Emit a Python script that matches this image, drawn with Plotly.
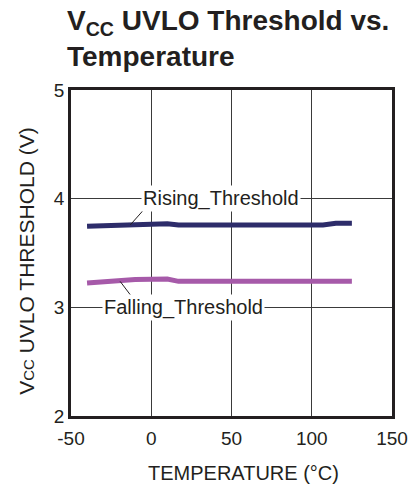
import plotly.graph_objects as go

# Temperature sweep (°C) and measured thresholds (V)
rising_temp = [-40, -25, -10, 10, 17, 25, 50, 75, 100, 107, 115, 125]
rising_v = [3.746, 3.756, 3.766, 3.770, 3.757, 3.757, 3.757, 3.757, 3.757, 3.758, 3.773, 3.773]

falling_temp = [-40, -25, -10, 10, 17, 25, 50, 75, 100, 125]
falling_v = [3.224, 3.240, 3.256, 3.261, 3.239, 3.239, 3.239, 3.239, 3.239, 3.239]

x_ticks = [-50, 0, 50, 100, 150]
y_ticks = [2, 3, 4, 5]

# Curve labels: text anchor and leader line (tail -> curve)
rising_label = {"text": "Rising_Threshold", "x": 43.7, "y": 4.0,
                "lead": [(-3.1, 3.924), (-13.1, 3.758)]}
falling_label = {"text": "Falling_Threshold", "x": 19.8, "y": 3.0,
                 "lead": [(-11.7, 3.089), (-19.4, 3.239)]}

FONT = "Arial, 'Liberation Sans', Helvetica, sans-serif"
INK = "#231f20"

fig = go.Figure()
fig.add_trace(go.Scatter(x=rising_temp, y=rising_v, mode="lines",
                         line=dict(color="#2d2c6a", width=5), showlegend=False))
fig.add_trace(go.Scatter(x=falling_temp, y=falling_v, mode="lines",
                         line=dict(color="#a65aa9", width=5), showlegend=False))

for lab in (rising_label, falling_label):
    (x0, y0), (x1, y1) = lab["lead"]
    fig.add_shape(type="line", xref="x", yref="y", x0=x0, y0=y0, x1=x1, y1=y1,
                  line=dict(color=INK, width=1))
    fig.add_annotation(x=lab["x"], y=lab["y"], xref="x", yref="y", text=lab["text"],
                       showarrow=False, bgcolor="white", borderpad=1,
                       font=dict(family=FONT, size=20, color=INK))

axis_common = dict(showline=True, linewidth=2.5, linecolor=INK, mirror=True,
                   showgrid=True, gridcolor="#3a3a3a", gridwidth=1, zeroline=False,
                   ticks="", tickfont=dict(family=FONT, size=19, color=INK))

fig.update_xaxes(range=[-50, 150], tickvals=x_ticks, ticktext=[str(v) for v in x_ticks],
                 ticklabelstandoff=3, **axis_common)
fig.update_yaxes(range=[2, 5], tickvals=y_ticks, ticktext=[str(v) for v in y_ticks],
                 ticklabelstandoff=0, **axis_common)

# Chart heading
fig.add_annotation(xref="paper", yref="paper", x=-0.018, y=1 + 87 / 326,
                   xanchor="left", yanchor="top", align="left", showarrow=False,
                   text="V<sub>CC</sub> UVLO Threshold vs.<br>Temperature",
                   font=dict(family=FONT, size=28, color=INK, weight="bold"))

# Axis titles
fig.add_annotation(xref="paper", yref="paper", x=0.537, y=-0.175, showarrow=False,
                   text="TEMPERATURE (°C)", xanchor="center", yanchor="middle",
                   font=dict(family=FONT, size=20, color=INK))
fig.add_annotation(xref="paper", yref="paper", x=-0.137, y=0.476, showarrow=False,
                   text="V<span style='font-size:15px'>CC</span> UVLO THRESHOLD (V)",
                   textangle=-90, xanchor="center", yanchor="middle",
                   font=dict(family=FONT, size=21, color=INK))

fig.update_layout(
    width=420, height=487,
    margin=dict(l=71, r=23, t=90, b=71),
    paper_bgcolor="white", plot_bgcolor="white",
)

fig.write_html("out.html")
